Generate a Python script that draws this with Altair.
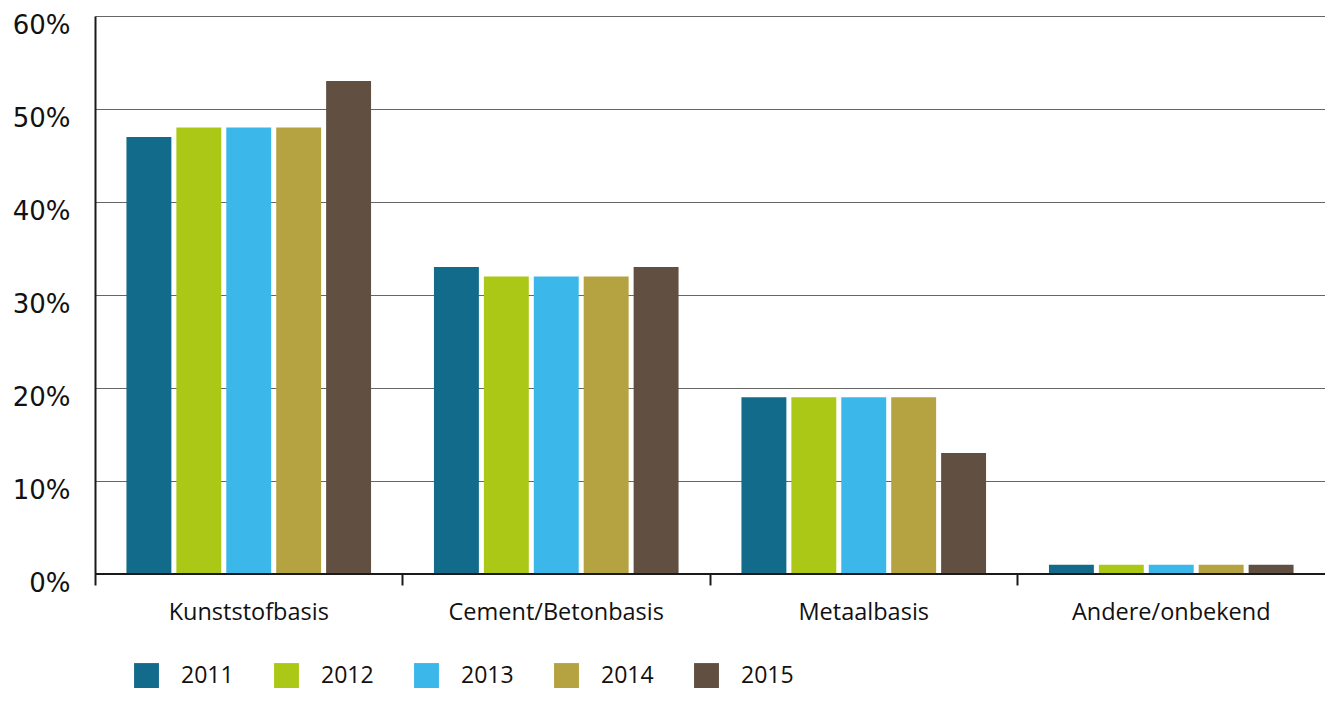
import altair as alt
import pandas as pd

categories = ["Kunststofbasis", "Cement/Betonbasis", "Metaalbasis", "Andere/onbekend"]
years = ["2011", "2012", "2013", "2014", "2015"]
values = {
    "2011": [47, 33, 19, 1],
    "2012": [48, 32, 19, 1],
    "2013": [48, 32, 19, 1],
    "2014": [48, 32, 19, 1],
    "2015": [53, 33, 13, 1],
}
colors = ["#136b8c", "#acc816", "#3cb7e9", "#b5a240", "#614f41"]

rows = []
for y in years:
    for c, v in zip(categories, values[y]):
        rows.append({"cat": c, "year": y, "value": v / 100})
df = pd.DataFrame(rows)

FONT = "Open Sans"

bars = alt.Chart(df).mark_bar().encode(
    x=alt.X("cat:N", sort=categories, title=None,
            scale=alt.Scale(paddingInner=0, paddingOuter=0),
            axis=alt.Axis(bandPosition=0, labelAngle=0, ticks=True, tickSize=11,
                          tickColor="#1a1a1a", tickWidth=2, domain=False,
                          labelPadding=15, labelFontSize=23.5, labelLimit=400,
                          labelColor="#111", labelFont=FONT)),
    xOffset=alt.XOffset("year:N", sort=years,
                        scale=alt.Scale(paddingInner=0.1, paddingOuter=0.63)),
    y=alt.Y("value:Q", title=None,
            scale=alt.Scale(domain=[0, 0.6]),
            axis=alt.Axis(format=".0%", values=[0, 0.1, 0.2, 0.3, 0.4, 0.5, 0.6],
                          grid=True, gridColor="#666", gridWidth=1, ticks=False,
                          domain=True, domainColor="#1a1a1a", domainWidth=2,
                          labelPadding=25, labelOffset=9, labelFontSize=26,
                          labelColor="#111", labelFont="DejaVu Sans")),
    color=alt.Color("year:N", sort=years,
                    scale=alt.Scale(domain=years, range=colors),
                    legend=alt.Legend(title=None, orient="none", legendX=39, legendY=647,
                                      direction="horizontal", symbolType="square",
                                      symbolSize=620, symbolStrokeWidth=0, symbolOpacity=1,
                                      labelFontSize=23, labelOffset=22, labelFont=FONT,
                                      labelColor="#111", columnPadding=40)),
)

zero = alt.Chart(pd.DataFrame({"v": [0]})).mark_rule(color="#1a1a1a", strokeWidth=2).encode(
    y="v:Q"
)

chart = alt.layer(bars, zero).properties(
    width=1230, height=558,
    autosize=alt.AutoSizeParams(type="none"),
    padding={"left": 87, "top": 8, "right": 0, "bottom": 122},
).configure_view(stroke=None).configure(font=FONT)

chart.save("out.html", embed_options={"renderer": "svg", "actions": False})
